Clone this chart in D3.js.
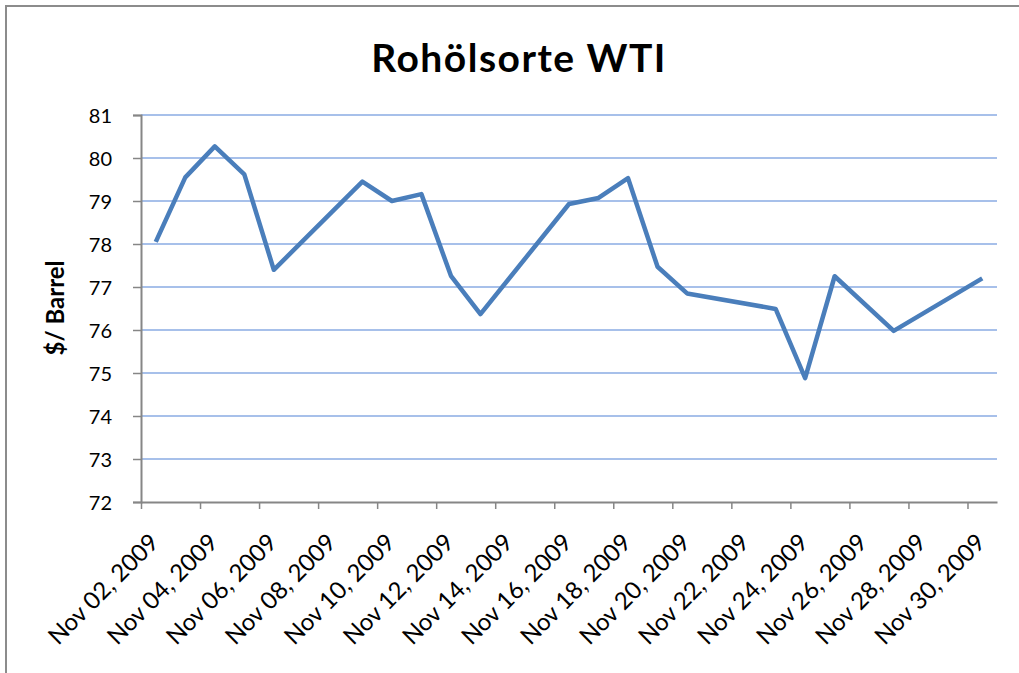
<!DOCTYPE html>
<html>
<head>
<meta charset="utf-8">
<script src="https://cdn.jsdelivr.net/npm/d3@7"></script>
<style>
  body { margin: 0; background: #fff; }
  svg text { font-family: Lato, "Open Sans", sans-serif; fill: #000; }
</style>
</head>
<body>
<div id="chart"></div>
<script>
// Rohölsorte WTI, Nov 2009 (trading days only)
var dates = ["2009-11-02","2009-11-03","2009-11-04","2009-11-05","2009-11-06",
             "2009-11-09","2009-11-10","2009-11-11","2009-11-12","2009-11-13",
             "2009-11-16","2009-11-17","2009-11-18","2009-11-19","2009-11-20",
             "2009-11-23","2009-11-24","2009-11-25","2009-11-27","2009-11-30"];
var prices = [78.05, 79.55, 80.27, 79.62, 77.40,
              79.45, 79.00, 79.16, 77.26, 76.37,
              78.93, 79.07, 79.53, 77.47, 76.85,
              76.49, 74.88, 77.25, 75.98, 77.20];
var yTicks = [72, 73, 74, 75, 76, 77, 78, 79, 80, 81];
var xTickDates = ["2009-11-02","2009-11-04","2009-11-06","2009-11-08","2009-11-10",
                  "2009-11-12","2009-11-14","2009-11-16","2009-11-18","2009-11-20",
                  "2009-11-22","2009-11-24","2009-11-26","2009-11-28","2009-11-30"];
var xDomain = ["2009-11-02", "2009-12-01"];

var W = 1019, H = 673;
var margin = {top: 115, right: 22, bottom: 171, left: 141};
var width = W - margin.left - margin.right,
    height = H - margin.top - margin.bottom;

var parse = d3.utcParse("%Y-%m-%d");
var fmt = d3.utcFormat("%b %d, %Y");
var data = dates.map(function(d, i) { return {date: parse(d), value: prices[i]}; });

var svg = d3.select("#chart").append("svg")
    .attr("width", W).attr("height", H);

// chart frame
svg.append("rect")
    .attr("x", 6).attr("y", 6)
    .attr("width", W + 50).attr("height", H + 50)
    .attr("fill", "none").attr("stroke", "#8c8c8c").attr("stroke-width", 2);

svg.append("text")
    .attr("x", 519).attr("y", 72)
    .attr("text-anchor", "middle")
    .attr("font-size", 39).attr("font-weight", "bold")
    .attr("letter-spacing", 1.5)
    .text("Rohölsorte WTI");

var g = svg.append("g").attr("transform", "translate(" + margin.left + "," + margin.top + ")");

var x = d3.scaleUtc().domain(xDomain.map(parse)).range([0, width]);
var y = d3.scaleLinear().domain([72, 81]).range([height, 0]);
var halfDay = x(d3.utcHour.offset(x.domain()[0], 12)) - x(x.domain()[0]);

// gridlines
g.append("g")
  .selectAll("line")
  .data(yTicks.slice(1))
  .enter().append("line")
    .attr("x1", 0).attr("x2", width)
    .attr("y1", function(d) { return y(d); })
    .attr("y2", function(d) { return y(d); })
    .attr("stroke", "#a7c0ea").attr("stroke-width", 2);

// y axis
var yAxis = g.append("g")
    .call(d3.axisLeft(y).tickValues(yTicks).tickSize(8).tickPadding(21));
yAxis.select(".domain").attr("stroke", "#868686").attr("stroke-width", 2);
yAxis.selectAll(".tick line").attr("stroke", "#868686").attr("stroke-width", 1.5);
yAxis.selectAll(".tick text")
    .attr("font-size", 20).attr("font-family", "Lato").attr("dy", "0.38em");

// x axis
var xAxis = g.append("g")
    .attr("transform", "translate(0," + height + ")")
    .call(d3.axisBottom(x).tickValues(xTickDates.map(parse)).tickSize(7).tickSizeOuter(0).tickFormat(fmt));
xAxis.select(".domain").attr("stroke", "#868686").attr("stroke-width", 2);
xAxis.selectAll(".tick line").attr("stroke", "#868686").attr("stroke-width", 1.5);
xAxis.selectAll(".tick text")
    .attr("font-size", 24).attr("font-family", "Lato")
    .attr("text-anchor", "end")
    .attr("y", 0).attr("dy", "0.35em")
    .attr("transform", "translate(" + (halfDay - 2) + ",36) rotate(-45)");

// axis title
svg.append("text")
    .attr("transform", "translate(64,308) rotate(-90)")
    .attr("text-anchor", "middle")
    .attr("font-size", 24).attr("font-weight", "bold")
    .text("$/ Barrel");

// price line
var line = d3.line()
    .x(function(d) { return x(d3.utcHour.offset(d.date, 12)); })
    .y(function(d) { return y(d.value); });

g.append("path")
    .datum(data)
    .attr("fill", "none")
    .attr("stroke", "#4a7ebb")
    .attr("stroke-width", 4.5)
    .attr("stroke-linejoin", "round")
    .attr("d", line);
</script>
</body>
</html>
